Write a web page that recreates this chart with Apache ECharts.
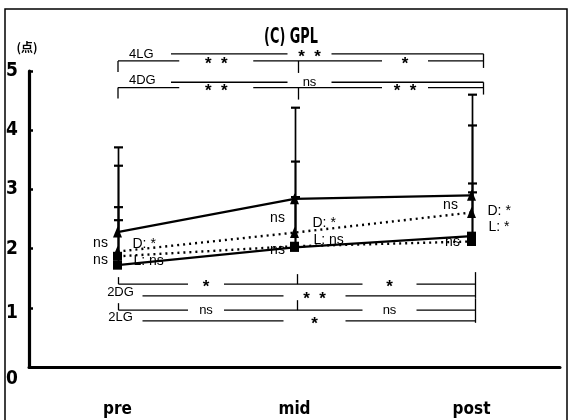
<!DOCTYPE html>
<html>
<head>
<meta charset="utf-8">
<script src="https://cdn.jsdelivr.net/npm/echarts@6/dist/echarts.min.js"></script>
<style>
html, body { margin: 0; padding: 0; background: #fff; }
#chart { width: 571px; height: 420px; }
</style>
</head>
<body>
<div id="chart"></div>
<script>
// Time points and axis ticks
const categories = ['pre', 'mid', 'post'];
const yTicks = [0, 1, 2, 3, 4, 5];

// Group means (GPL score)
const mean4LG = [2.28, 2.84, 2.90];
const mean4DG = [1.95, 2.27, 2.61];
const mean2DG = [1.87, 2.04, 2.12];
const mean2LG = [1.72, 2.02, 2.21];

// Upper end of each SD bar (mean + SD)
const upper4LG = [3.71, 4.38, 4.60];
const upper4DG = [3.40, 3.47, 4.08];
const upper2DG = [2.70, 2.87, 3.10];
const upper2LG = [2.48, 2.87, 2.95];

// Within-group tests between time points: [pre-mid, mid-post, pre-post]
const sig4LG = ['* *', '*', '* *'];
const sig4DG = ['* *', '* *', 'ns'];
const sig2DG = ['*', '*', '* *'];
const sig2LG = ['ns', 'ns', '*'];

// Between-group tests at each time point
const cmp4 = ['ns', 'ns', 'ns'];   // 4LG vs 4DG
const cmp2 = ['ns', 'ns', 'ns'];   // 2LG vs 2DG
const cmpD = ['*', '*', '*'];      // 4DG vs 2DG
const cmpL = ['ns', 'ns', '*'];    // 4LG vs 2LG

const NARROW = "'Liberation Sans Narrow', 'DejaVu Sans Condensed', 'Liberation Sans', sans-serif";
const SANS = "'Liberation Sans', Arial, sans-serif";

const chart = echarts.init(document.getElementById('chart'), null, { renderer: 'canvas' });

function errorBar(params, api) {
  const base = api.coord([api.value(0), api.value(1)]);
  const top = api.coord([api.value(0), api.value(2)]);
  const x = base[0] + 1;
  return {
    type: 'group',
    children: [
      { type: 'line', shape: { x1: x, y1: base[1], x2: x, y2: top[1] },
        style: { stroke: '#000', lineWidth: 1.7 } },
      { type: 'line', shape: { x1: x - 4.5, y1: top[1], x2: x + 4.5, y2: top[1] },
        style: { stroke: '#000', lineWidth: 2.2 } }
    ]
  };
}

function barData(mean, upper) {
  return categories.map((c, i) => [i, mean[i], upper[i]]);
}

function lineSeries(name, data, symbol, dotted) {
  return {
    name: name,
    type: 'line',
    data: data,
    symbol: symbol,
    symbolSize: symbol === 'triangle' ? [9, 11] : 9,
    showSymbol: true,
    itemStyle: { color: '#000' },
    lineStyle: { color: '#000', width: dotted ? 2.4 : 2.3, type: dotted ? [2, 4] : 'solid' },
    z: 3,
    animation: false
  };
}

function barSeries(name, mean, upper) {
  return {
    name: name + ' SD',
    type: 'custom',
    renderItem: errorBar,
    data: barData(mean, upper),
    encode: { x: 0, y: [1, 2] },
    z: 2,
    animation: false
  };
}

chart.setOption({
  animation: false,
  backgroundColor: '#fff',
  grid: { left: 29, right: 11, top: 71, bottom: 53 },
  xAxis: {
    type: 'category',
    data: categories,
    boundaryGap: true,
    axisLine: { lineStyle: { color: '#000', width: 3 } },
    axisTick: { inside: true, length: 7, lineStyle: { color: '#000', width: 1.5 } },
    axisLabel: { color: '#000', fontSize: 17, fontWeight: 'bold', fontFamily: NARROW, margin: 34 }
  },
  yAxis: {
    type: 'value',
    min: yTicks[0],
    max: yTicks[yTicks.length - 1],
    interval: 1,
    axisLine: { show: true, lineStyle: { color: '#000', width: 3.2 } },
    axisTick: { show: true, inside: true, length: 4, lineStyle: { color: '#000', width: 2.5 } },
    splitLine: { show: false },
    axisLabel: {
      color: '#000', fontSize: 19, fontWeight: 'bold', fontFamily: NARROW, margin: 11,
      formatter: v => v === 0 ? '{low|0}' : (v === 1 ? '{mid|1}' : String(v)),
      rich: {
        low: { fontSize: 19, fontWeight: 'bold', fontFamily: NARROW, padding: [24, 0, 0, 0] },
        mid: { fontSize: 19, fontWeight: 'bold', fontFamily: NARROW, padding: [10, 0, 0, 0] }
      }
    }
  },
  series: [
    barSeries('4LG', mean4LG, upper4LG),
    barSeries('4DG', mean4DG, upper4DG),
    barSeries('2DG', mean2DG, upper2DG),
    barSeries('2LG', mean2LG, upper2LG),
    lineSeries('4LG', mean4LG, 'triangle', false),
    lineSeries('4DG', mean4DG, 'triangle', true),
    lineSeries('2DG', mean2DG, 'rect', true),
    lineSeries('2LG', mean2LG, 'rect', false)
  ]
});

// ---- annotations placed through the chart's own scales ----
const px = c => chart.convertToPixel({ xAxisIndex: 0 }, c);
const py = v => chart.convertToPixel({ yAxisIndex: 0 }, v);

const g = [];
const LW = 1.3;

function seg(x1, y1, x2, y2) {
  g.push({ type: 'line', shape: { x1, y1, x2, y2 }, style: { stroke: '#000', lineWidth: LW }, z: 1 });
}
function txt(text, x, y, opts) {
  const o = opts || {};
  const star = text.indexOf('*') >= 0 && text.indexOf(':') < 0;
  g.push({
    type: 'text', z: 1,
    style: {
      text: star ? text.replace(' ', '  ') : text,
      x: x, y: star ? y + 3.5 : y,
      fill: '#000',
      font: (star ? 'bold 17px ' : (o.size || 13) + 'px ') + (o.family || SANS),
      textAlign: o.align || 'center',
      textVerticalAlign: o.valign || 'middle'
    }
  });
}

// Brackets above the data (4-groups): outer line = pre-post, inner = pre-mid / mid-post
function topBracket(label, sig, outerVal, innerVal) {
  const pX = px('pre') + 0.5, mX = px('mid') + 4, eX = px('post') + 12;
  const yo = py(outerVal), yi = py(innerVal);
  txt(label, pX + 11, yi - 0.5, { align: 'left', valign: 'bottom' });
  const c3 = mX + 11;
  seg(pX + 53, yo, c3 - 22, yo);
  seg(c3 + 22, yo, eX, yo);
  txt(sig[2], c3, yo);
  const c1 = (pX + mX) / 2 + 8, c2 = (mX + eX) / 2 + 14;
  seg(pX, yi, c1 - 37, yi);
  seg(c1 + 37, yi, c2 - 23, yi);
  seg(c2 + 23, yi, eX, yi);
  txt(sig[0], c1, yi);
  txt(sig[1], c2, yi);
  seg(pX, yi, pX, yi + 11);
  seg(mX, yi, mX, yi + 12);
  seg(eX, yo, eX, yi + 7);
}

// Brackets below the data (2-groups): inner line = pre-mid / mid-post, outer = pre-post
function bottomBracket(label, sig, innerVal, outerVal) {
  const pX = px('pre') + 1, mX = px('mid') + 3, eX = px('post') + 4;
  const yi = py(innerVal), yo = py(outerVal);
  const c1 = (pX + mX) / 2 - 2, c2 = (mX + eX) / 2 + 3, c3 = mX + 17;
  seg(pX, yi, c1 - 18, yi);
  seg(c1 + 18, yi, c2 - 27, yi);
  seg(c2 + 27, yi, eX, yi);
  txt(sig[0], c1, yi);
  txt(sig[1], c2, yi);
  seg(pX + 24, yo, c3 - 31, yo);
  seg(c3 + 31, yo, eX, yo);
  txt(sig[2], c3, yo);
  txt(label, pX + 2, yo + 3, { valign: 'bottom' });
  seg(pX, yi - 7, pX, yi);
  seg(mX, yi - 10, mX, yi);
  seg(eX, yi - 12, eX, yo + 2);
}

topBracket('4LG', sig4LG, 5.29, 5.17);
topBracket('4DG', sig4DG, 4.81, 4.72);
bottomBracket('2DG', sig2DG, 1.40, 1.20);
bottomBracket('2LG', sig2LG, 0.96, 0.78);

// Between-group labels beside each time point
const cmpLayout = [
  { labels: cmp4, prefix: '',    value: [2.09, 2.52, 2.74], dx: [-17, -17, -21], align: 'center' },
  { labels: cmp2, prefix: '',    value: [1.81, 1.98, 2.11], dx: [-17, -17, -19], align: 'center' },
  { labels: cmpD, prefix: 'D: ', value: [2.08, 2.43, 2.64], dx: [15, 18, 16], align: 'left' },
  { labels: cmpL, prefix: 'L: ', value: [1.79, 2.15, 2.36], dx: [16, 19, 17], align: 'left' }
];
cmpLayout.forEach(row => {
  categories.forEach((c, i) => {
    g.push({
      type: 'text', z: 1,
      style: {
        text: row.prefix + row.labels[i],
        x: px(c) + row.dx[i], y: py(row.value[i]),
        fill: '#000', font: '14px ' + SANS,
        textAlign: row.align, textVerticalAlign: 'middle'
      }
    });
  });
});

// Title, unit and frame
g.push({
  type: 'text', x: 291, y: 38, scaleX: 0.68, z: 1,
  style: { text: '(C) GPL', x: 0, y: 0, fill: '#000', font: 'bold 21px ' + NARROW,
           textAlign: 'center', textVerticalAlign: 'middle' }
});
g.push({
  type: 'text', z: 1,
  style: { text: '(点)', x: 27, y: 47, fill: '#000',
           font: 'bold 12px "Noto Sans CJK JP", sans-serif', textAlign: 'center', textVerticalAlign: 'middle' }
});
g.push({
  type: 'rect', z: 0,
  shape: { x: 5, y: 9, width: 562, height: 430 },
  style: { fill: 'none', stroke: '#000', lineWidth: 1.5 }
});

chart.setOption({ graphic: g });
</script>
</body>
</html>
